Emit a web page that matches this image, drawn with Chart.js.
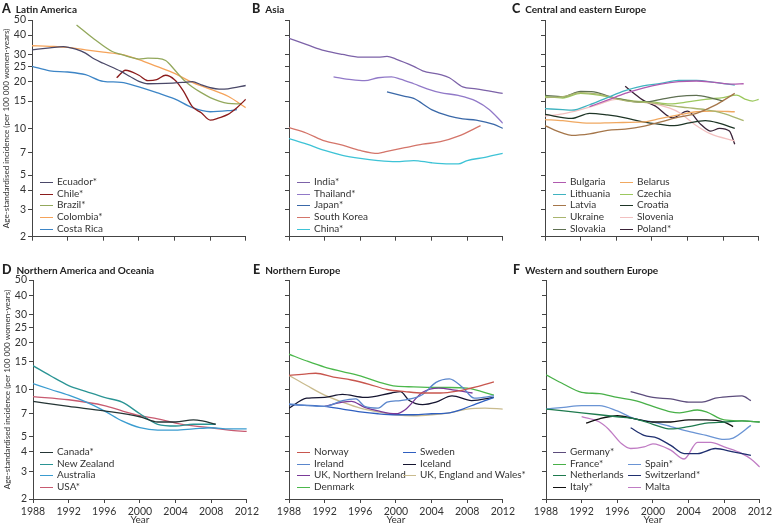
<!DOCTYPE html>
<html>
<head>
<meta charset="utf-8">
<script src="https://cdn.jsdelivr.net/npm/chart.js@4/dist/chart.umd.min.js"></script>
<style>
  body { margin: 0; background: #fff; width: 776px; height: 526px; position: relative; overflow: hidden;
         font-family: Lato, 'Liberation Sans', Arial, sans-serif; color: #222; }
  canvas { position: absolute; }
  .title { position: absolute; font-weight: bold; font-size: 10px; white-space: nowrap; }
  .title b { font-size: 12.5px; margin-right: 5px; }
  .item { position: absolute; white-space: nowrap; font-size: 10px; line-height: 11px; color: #333; }
  .item i { display: inline-block; width: 13px; height: 0; border-top: 1.4px solid; vertical-align: middle; margin-right: 4px; }
</style>
</head>
<body>
<canvas id="cA" width="260" height="245" style="left:0;top:0"></canvas>
<canvas id="cB" width="260" height="245" style="left:257px;top:0"></canvas>
<canvas id="cC" width="260" height="245" style="left:513px;top:0"></canvas>
<canvas id="cD" width="260" height="266" style="left:1px;top:260px"></canvas>
<canvas id="cE" width="260" height="266" style="left:257px;top:260px"></canvas>
<canvas id="cF" width="260" height="266" style="left:514px;top:260px"></canvas>
<script>
'use strict';

// y tick labels (log scale) and x range
const yTicks = [2, 3, 4, 5, 7, 10, 15, 20, 25, 30, 40, 50];
const yearTicks = [1988, 1992, 1996, 2000, 2004, 2008, 2012];

// A  Latin America  [year, incidence]
const ecuador = [[1988, 32.1], [1990, 33.0], [1991.5, 33.7], [1993, 32.3], [1994, 30.6], [1995, 28.0], [1996, 26.3], [1998, 23.3], [1999, 21.6], [2000, 20.1], [2001, 19.4], [2003, 19.5], [2005, 19.8], [2006, 20.0], [2007, 19.1], [2008, 18.3], [2009, 17.9], [2010, 18.0], [2012, 18.9]];
const chile = [[1997.5, 21.2], [1998.5, 23.7], [2000, 22.0], [2001, 20.3], [2002, 20.6], [2003, 22.0], [2004, 20.6], [2005, 17.4], [2006, 13.8], [2007, 12.6], [2008, 11.3], [2009, 11.7], [2010, 12.3], [2011, 13.6], [2012, 15.4]];
const brazil = [[1993, 46.5], [1995, 37.6], [1997, 31.3], [1998, 30.0], [1999, 28.8], [2000, 28.0], [2001, 28.4], [2002, 28.3], [2003, 27.4], [2004, 23.9], [2005, 20.6], [2006, 18.5], [2007, 17.0], [2008, 15.8], [2009, 15.0], [2010, 14.5], [2011, 14.4], [2011.5, 14.5]];
const colombia = [[1988, 34.1], [1990, 33.8], [1992, 33.3], [1994, 32.1], [1996, 31.0], [1998, 30.0], [2000, 27.8], [2002, 25.1], [2004, 22.6], [2006, 19.8], [2008, 17.9], [2010, 16.1], [2012, 13.6]];
const costaRica = [[1988, 25.1], [1990, 23.5], [1992, 23.1], [1994, 22.2], [1996, 20.1], [1998, 19.8], [2000, 18.5], [2002, 17.0], [2004, 15.5], [2006, 13.6], [2008, 12.8], [2010, 13.0], [2011, 13.2]];

// B  Asia
const india = [[1988, 38.1], [1990, 34.7], [1992, 31.7], [1994, 30.0], [1996, 28.8], [1998, 28.8], [1999, 29.1], [2000, 28.0], [2002, 25.1], [2003, 23.5], [2005, 22.2], [2006, 21.2], [2007.5, 18.5], [2009, 18.0], [2012, 16.8]];
const thailand = [[1993, 21.5], [1995, 20.6], [1996.5, 20.3], [1998, 21.2], [1999.5, 21.5], [2000.5, 20.8], [2002, 19.4], [2003.5, 18.0], [2005, 17.0], [2007, 16.3], [2009, 15.0], [2010.5, 13.2], [2012, 10.8]];
const japan = [[1999, 17.2], [2001, 16.1], [2002, 15.6], [2004, 13.2], [2006, 12.0], [2007.5, 11.5], [2009, 11.3], [2011, 10.6], [2012, 10.0]];
const southKorea = [[1988, 10.1], [1990, 9.3], [1992, 8.3], [1994, 7.8], [1996, 7.2], [1998, 6.9], [1999, 7.1], [2001, 7.5], [2003, 7.9], [2005, 8.2], [2007, 8.9], [2009.5, 10.4]];
const china = [[1988, 8.6], [1990, 7.9], [1992, 7.2], [1994, 6.7], [1996, 6.4], [1998, 6.2], [2000, 6.1], [2002, 6.2], [2004, 6.0], [2006, 5.9], [2007, 5.9], [2008, 6.2], [2010, 6.5], [2012, 6.9]];

// C  Central and eastern Europe
const bulgaria = [[1993, 13.8], [1995, 15.2], [1997, 16.8], [1999, 18.2], [2001, 19.3], [2003, 20.0], [2005, 20.2], [2007, 19.8], [2009, 19.3], [2010.3, 19.4]];
const lithuania = [[1988, 13.4], [1990, 13.2], [1991, 13.1], [1993, 14.2], [1995, 15.8], [1997, 17.5], [1999, 18.8], [2001, 19.5], [2003, 20.4], [2005, 20.4], [2007, 19.8], [2009.3, 19.0]];
const latvia = [[1988, 10.4], [1990, 9.3], [1991, 9.0], [1993, 9.2], [1995, 9.7], [1997, 9.9], [1999, 10.3], [2001, 11.0], [2003, 11.8], [2005, 12.5], [2007, 14.0], [2009.3, 16.8]];
const ukraine = [[1988, 15.8], [1990, 16.0], [1992, 17.0], [1994, 16.6], [1996, 15.5], [1998, 14.8], [2000, 14.6], [2002, 14.0], [2004, 13.6], [2006, 13.2], [2008, 12.5], [2010.3, 11.2]];
const slovakia = [[1988, 16.3], [1990, 16.0], [1992, 17.3], [1993.5, 17.2], [1995, 16.2], [1997, 15.2], [1999, 14.7], [2001, 15.4], [2003, 16.1], [2005, 16.3], [2006.5, 15.8], [2008, 15.0]];
const belarus = [[1988, 11.4], [1990, 11.2], [1993, 10.8], [1996, 10.9], [1999, 11.0], [2001, 11.6], [2003, 12.2], [2005, 12.8], [2007, 12.9], [2009.3, 12.8]];
const czechia = [[1988, 16.0], [1990, 15.7], [1992, 16.8], [1994, 16.4], [1996, 15.6], [1998, 15.0], [2000, 14.8], [2002, 14.4], [2004, 14.8], [2006, 15.4], [2008, 15.8], [2009.5, 16.4], [2010.5, 15.4], [2011.3, 15.0], [2012, 15.4]];
const croatia = [[1988, 12.3], [1991, 11.6], [1993, 12.5], [1995, 12.2], [1997, 11.7], [1999, 11.0], [2001, 10.6], [2002.5, 10.4], [2004, 10.8], [2006, 11.2], [2007.5, 10.8], [2009.3, 10.0]];
const slovenia = [[1988, 12.0], [1990, 12.4], [1992, 13.2], [1994, 14.3], [1996, 15.4], [1998, 15.0], [2000, 14.5], [2002, 13.5], [2003, 12.7], [2004.8, 10.6], [2006.6, 9.2], [2009.3, 8.3]];
const poland = [[1997, 18.7], [1998, 16.8], [1999, 15.2], [2000.4, 13.9], [2002.3, 11.7], [2004, 12.9], [2005.5, 10.6], [2006.6, 9.6], [2007.6, 10.0], [2008.7, 9.6], [2009.3, 7.9]];

// D  Northern America and Oceania
const canada = [[1988, 8.4], [1992, 7.8], [1996, 7.3], [2000, 6.7], [2002, 6.2], [2004, 6.2], [2006, 6.4], [2007, 6.3], [2008.5, 6.0]];
const newZealand = [[1988, 14.2], [1990, 12.2], [1992, 10.6], [1994, 9.7], [1996, 8.9], [1998, 8.3], [2000, 7.0], [2002, 6.0], [2004, 5.85], [2006, 6.0], [2008.5, 6.0]];
const australia = [[1988, 10.9], [1990, 10.0], [1992, 9.2], [1994, 8.3], [1996, 7.3], [1998, 6.3], [2000, 5.7], [2002, 5.5], [2004, 5.5], [2006, 5.6], [2008, 5.7], [2010, 5.6], [2012, 5.6]];
const usa = [[1988, 9.0], [1992, 8.6], [1996, 7.9], [1998, 7.3], [2000, 6.8], [2002, 6.5], [2004, 6.1], [2006, 5.85], [2008, 5.7], [2010, 5.5], [2012, 5.4]];

// E  Northern Europe
const norway = [[1988, 12.3], [1990, 12.6], [1991, 12.7], [1993, 12.0], [1995, 11.5], [1997, 10.8], [1999, 10.0], [2001, 9.7], [2003, 9.5], [2005, 9.5], [2007, 9.8], [2009, 10.4], [2011, 11.2]];
const ireland = [[1988, 8.1], [1990, 7.9], [1992, 7.8], [1994, 8.5], [1995.5, 8.7], [1996.5, 7.8], [1998, 7.6], [1999, 8.3], [2000.5, 8.5], [2002, 8.8], [2003, 9.3], [2004.5, 11.1], [2006, 11.7], [2007.5, 10.3], [2008.8, 8.8], [2011, 9.1]];
const ukNorthernIreland = [[1992, 7.8], [1994, 8.3], [1995, 8.4], [1996.5, 7.7], [1998, 7.3], [2000, 7.0], [2001, 7.4], [2003, 9.6], [2004.8, 10.2], [2006.6, 9.9], [2008.6, 9.5]];
const denmark = [[1988, 16.8], [1990, 15.2], [1992, 13.9], [1994, 13.0], [1996, 12.2], [1998, 11.2], [2000, 10.5], [2002, 10.4], [2004, 10.3], [2006, 10.3], [2008, 10.2], [2011, 9.2]];
const sweden = [[1988, 8.0], [1992, 7.8], [1994, 7.5], [1996, 7.2], [1998, 7.0], [2000, 6.9], [2002, 6.9], [2004, 7.0], [2006, 7.1], [2007.5, 7.5], [2009, 8.1], [2011, 8.9]];
const iceland = [[1988, 7.6], [1990, 8.8], [1992, 8.9], [1994, 9.3], [1996.5, 8.9], [1999.5, 9.5], [2000.5, 9.7], [2001.5, 8.5], [2003, 8.0], [2004.5, 8.3], [2006.3, 9.1], [2008.5, 8.5], [2011, 8.9]];
const ukEnglandWales = [[1988, 12.3], [1990, 10.6], [1992, 9.2], [1994, 8.3], [1996, 7.6], [1998, 7.2], [2000, 6.9], [2002, 6.8], [2004, 6.9], [2006, 7.1], [2008, 7.5], [2010, 7.6], [2012, 7.5]];

// F  Western and southern Europe
const germany = [[1997.5, 9.7], [2000, 8.9], [2002, 8.7], [2004, 8.3], [2005.5, 8.3], [2007, 8.8], [2008.5, 9.0], [2010, 9.1], [2011, 8.5]];
const france = [[1988, 12.4], [1990, 10.8], [1992, 9.6], [1994, 9.4], [1996, 8.9], [1998, 8.5], [2000, 7.8], [2002, 7.2], [2003, 7.1], [2005, 7.4], [2006, 7.2], [2008, 6.4], [2010, 6.3], [2012, 6.2]];
const netherlands = [[1988, 7.5], [1990, 7.3], [1992, 7.1], [1994, 6.9], [1996, 6.7], [1998, 6.5], [2000, 6.0], [2002, 5.6], [2004, 5.8], [2006, 6.1], [2008, 6.2], [2010, 6.3], [2012, 6.2]];
const italy = [[1992.5, 6.1], [1994, 6.5], [1996, 6.8], [1998, 6.5], [2000, 6.2], [2002, 6.2], [2004, 6.4], [2006, 6.4], [2008, 6.2], [2009, 5.8]];
const spain = [[1988, 7.5], [1990, 7.7], [1992, 7.9], [1994, 7.9], [1996, 7.3], [1998, 6.5], [2000, 6.2], [2002, 5.8], [2004, 5.4], [2006, 5.1], [2008, 4.8], [2009, 4.9], [2011, 5.9]];
const switzerland = [[1997.5, 5.7], [1999, 5.1], [2000.5, 4.9], [2002, 4.4], [2003.5, 3.9], [2005, 3.9], [2007, 4.2], [2009, 4.0], [2011, 3.8]];
const malta = [[1992, 6.7], [1994, 6.2], [1995, 5.6], [1996.5, 4.5], [1997.5, 4.2], [1999, 4.3], [2000, 4.5], [2002, 4.1], [2003.5, 3.6], [2005, 4.6], [2006.5, 4.6], [2008, 4.3], [2010, 3.9], [2011, 3.6], [2012, 3.2]];

const yTitle = 'Age-standardised incidence (per 100 000 women-years)';
const fontFamily = "Lato, 'Liberation Sans', Arial, sans-serif";

// panel setup: series label, data, colour, legend slot [col,row]
const panels = [
  { id: 'cA', letter: 'A', name: 'Latin America', left: true, bottom: false, title: [2, 1],
    legend: { x: 40, y: 182, colX: 0 },
    series: [
      ['Ecuador*', ecuador, '#4a4868', 0, 0],
      ['Chile*', chile, '#8b1c1c', 0, 1],
      ['Brazil*', brazil, '#93a85c', 0, 2],
      ['Colombia*', colombia, '#f5a35a', 0, 3],
      ['Costa Rica', costaRica, '#3d85c6', 0, 4],
    ] },
  { id: 'cB', letter: 'B', name: 'Asia', left: false, bottom: false, title: [252, 1],
    legend: { x: 297, y: 182, colX: 0 },
    series: [
      ['India*', india, '#7c62a8', 0, 0],
      ['Thailand*', thailand, '#9179c8', 0, 1],
      ['Japan*', japan, '#3a68a8', 0, 2],
      ['South Korea', southKorea, '#d4756a', 0, 3],
      ['China*', china, '#3ec3d6', 0, 4],
    ] },
  { id: 'cC', letter: 'C', name: 'Central and eastern Europe', left: false, bottom: false, title: [512, 1],
    legend: { x: 553, y: 182, colX: 67 },
    series: [
      ['Bulgaria', bulgaria, '#b05aaf', 0, 0],
      ['Lithuania', lithuania, '#3fb3c0', 0, 1],
      ['Latvia', latvia, '#a5764a', 0, 2],
      ['Ukraine', ukraine, '#a9b56e', 0, 3],
      ['Slovakia', slovakia, '#5f7052', 0, 4],
      ['Belarus', belarus, '#f0a860', 1, 0],
      ['Czechia', czechia, '#9cc85e', 1, 1],
      ['Croatia', croatia, '#1e3526', 1, 2],
      ['Slovenia', slovenia, '#f2c0c0', 1, 3],
      ['Poland*', poland, '#3a2238', 1, 4],
    ] },
  { id: 'cD', letter: 'D', name: 'Northern America and Oceania', left: true, bottom: true, title: [2, 262],
    legend: { x: 40, y: 452, colX: 0 },
    series: [
      ['Canada*', canada, '#253535', 0, 0],
      ['New Zealand', newZealand, '#2a9494', 0, 1],
      ['Australia', australia, '#3a9cd0', 0, 2],
      ['USA*', usa, '#c85a70', 0, 3],
    ] },
  { id: 'cE', letter: 'E', name: 'Northern Europe', left: false, bottom: true, title: [253, 262],
    legend: { x: 297, y: 452, colX: 106 },
    series: [
      ['Norway', norway, '#c8564e', 0, 0],
      ['Ireland', ireland, '#5a86cc', 0, 1],
      ['UK, Northern Ireland', ukNorthernIreland, '#7a3a98', 0, 2],
      ['Denmark', denmark, '#4cb84c', 0, 3],
      ['Sweden', sweden, '#2f5fc0', 1, 0],
      ['Iceland', iceland, '#151530', 1, 1],
      ['UK, England and Wales*', ukEnglandWales, '#c9bb8e', 1, 2],
    ] },
  { id: 'cF', letter: 'F', name: 'Western and southern Europe', left: false, bottom: true, title: [513, 262],
    legend: { x: 553, y: 452, colX: 75 },
    series: [
      ['Germany*', germany, '#5c4c7c', 0, 0],
      ['France*', france, '#48b048', 0, 1],
      ['Netherlands', netherlands, '#1e7a4e', 0, 2],
      ['Italy*', italy, '#111111', 0, 3],
      ['Spain*', spain, '#6a94d4', 1, 1],
      ['Switzerland*', switzerland, '#1f2f6f', 1, 2],
      ['Malta', malta, '#c07cc4', 1, 3],
    ] },
];

Chart.defaults.font.family = fontFamily;
Chart.defaults.color = '#333';

// y title has to fit the ~198px height of the plot like in the original
const measureCtx = document.createElement('canvas').getContext('2d');
measureCtx.font = '10px ' + fontFamily;
const yTitleSize = Math.min(10, 10 * 200 / measureCtx.measureText(yTitle).width);

function addText(cls, html, x, y) {
  const el = document.createElement('div');
  el.className = cls;
  el.innerHTML = html;
  el.style.left = x + 'px';
  el.style.top = y + 'px';
  document.body.appendChild(el);
  return el;
}

function makePanel(p) {
  const axisColor = '#444';
  new Chart(document.getElementById(p.id).getContext('2d'), {
    type: 'line',
    data: {
      datasets: p.series.map(([label, data, color]) => ({
        label,
        data: data.map(([x, y]) => ({ x, y })),
        borderColor: color,
        borderWidth: 1.3,
        pointRadius: 0,
        cubicInterpolationMode: 'monotone',
        fill: false,
      })),
    },
    options: {
      responsive: false,
      animation: false,
      layout: { padding: { top: 20, right: 7, left: 0, bottom: 0 } },
      plugins: { legend: { display: false }, tooltip: { enabled: false } },
      scales: {
        x: {
          type: 'linear',
          min: 1988,
          max: 2012,
          afterBuildTicks: axis => { axis.ticks = yearTicks.map(v => ({ value: v })); },
          ticks: {
            autoSkip: false,
            maxRotation: 0,
            padding: 2,
            font: { size: 10.5 },
            color: p.bottom ? '#333' : 'transparent',
            callback: v => String(v),
          },
          grid: { drawOnChartArea: false, drawTicks: true, tickLength: 4, color: axisColor },
          border: { color: axisColor },
          title: { display: p.bottom, text: 'Year', font: { size: 10 }, padding: 0, color: '#333' },
          afterFit: axis => { axis.height = p.bottom ? 27 : 7; },
        },
        y: {
          type: 'logarithmic',
          min: 2,
          max: 50,
          afterBuildTicks: axis => { axis.ticks = yTicks.map(v => ({ value: v })); },
          ticks: {
            autoSkip: false,
            padding: 2,
            font: { size: 10.5 },
            color: p.left ? '#333' : 'transparent',
            callback: v => String(v),
          },
          grid: { drawOnChartArea: false, drawTicks: true, tickLength: 4, color: axisColor },
          border: { color: axisColor },
          title: { display: p.left, text: yTitle, font: { size: yTitleSize }, padding: 1, color: '#333' },
          afterFit: axis => { axis.width = 32; },
        },
      },
    },
  });

  addText('title', `<b>${p.letter}</b>${p.name}`, p.title[0], p.title[1]);
  p.series.forEach(([label, , color, col, row]) => {
    addText('item', `<i style="border-color:${color}"></i>${label}`,
      p.legend.x + col * p.legend.colX, p.legend.y + row * 11.7 - 6);
  });
}

panels.forEach(makePanel);
</script>
</body>
</html>
